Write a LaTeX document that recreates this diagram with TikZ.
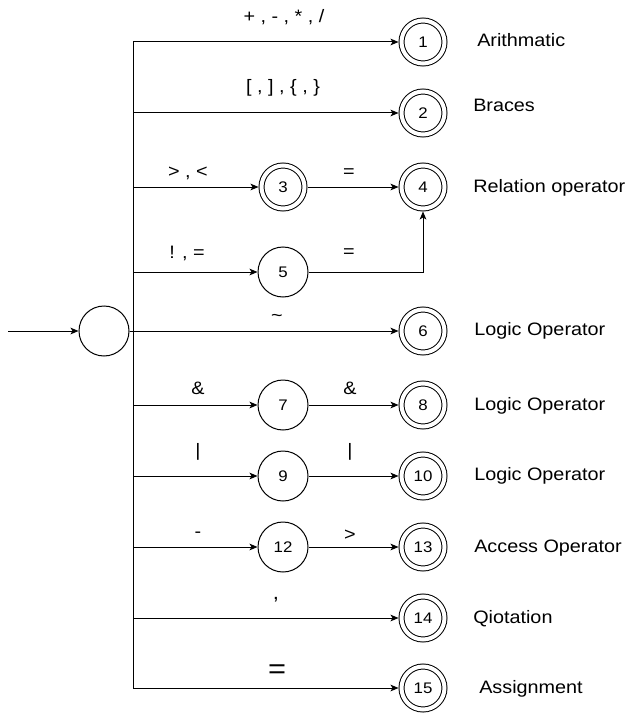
\documentclass[tikz,border=0pt]{standalone}
\usepackage{fontspec}
\setmainfont{Liberation Sans}[FakeStretch=1.1]
\usetikzlibrary{arrows.meta}

\begin{document}
\begin{tikzpicture}[x=0.75pt, y=-0.75pt,
		state/.style={circle, draw, line width=0.75pt, minimum size=37.5pt, inner sep=0pt, font=\fontsize{11.5}{13}\selectfont},
		accept/.style={state, minimum size=32.25pt, double, double distance=3pt, outer sep=2.25pt},
		arr/.style={line width=0.75pt, -{Stealth[length=6pt, width=5pt, inset=1.5pt]}},
		sym/.style={font=\fontsize{13.5}{16}\selectfont, inner sep=0pt},
		kind/.style={font=\fontsize{13.5}{16}\selectfont, anchor=west, inner sep=0pt}]
				\useasboundingbox (0,0) rectangle (639,713);
				\node[state] (s) at (104,331) {};
				\coordinate (in) at (8,331);
				\coordinate (bus) at (133,331);
				\foreach \n/\y in {1/42, 2/113, 4/187, 6/331, 8/405, 10/476, 13/547, 14/618, 15/688} {
					\node[accept] (q\n) at (423,\y) {\n};
				}
				\node[accept] (q3) at (283,187) {3};
				\foreach \n/\y in {5/272, 7/405, 9/476, 12/547} {
					\node[state] (q\n) at (283,\y) {\n};
				}
				\draw[arr] (in) -- (s);
				\draw[arr] (s) -- (q6);
				\foreach \n in {1,2,3,5,7,9,12,14,15} {
					\draw[arr] (s) -- (bus) |- (q\n);
				}
				\draw[arr] (q3) -- (q4);
				\draw[arr] (q5) -| (q4);
				\draw[arr] (q7) -- (q8);
				\draw[arr] (q9) -- (q10);
				\draw[arr] (q12) -- (q13);
				\node[sym] (l1) at (284,17) {+ , - , * , /};
				\node[sym] (l2) at (283,88) {[ , ] , \{ , \}};
				\node[sym] (l3) at (188,173) {> , <};
				\node[sym] (l34) at (349,173) {=};
				\node[sym] (l5) at (187,253) {! , =};
				\node[sym] (l54) at (349,253) {=};
				\node[sym] (l6) at (277,318) {\char`\~};
				\node[sym] (l7) at (198,388) {\&};
				\node[sym] (l78) at (350,388) {\&};
				\node[sym] (l9) at (198,452) {|};
				\node[sym] (l910) at (350,452) {|};
				\node[sym] (l12) at (198,535) {-};
				\node[sym] (l1213) at (350,535) {>};
				\node[sym, font=\fontsize{15}{18}\selectfont] (l14) at (276,600) {,};
				\node[sym, font=\fontsize{21}{24}\selectfont] (l15) at (277,672) {=};
				\node[kind] (k1) at (477,40) {Arithmatic};
				\node[kind] (k2) at (473,105) {Braces};
				\node[kind] (k4) at (473,188) {Relation operator};
				\node[kind] (k6) at (474,331) {Logic Operator};
				\node[kind] (k8) at (474,406) {Logic Operator};
				\node[kind] (k10) at (474,476) {Logic Operator};
				\node[kind] (k13) at (474,548) {Access Operator};
				\node[kind] (k14) at (473,619) {Qiotation};
				\node[kind] (k15) at (479,689) {Assignment};
			\end{tikzpicture}
\end{document}
